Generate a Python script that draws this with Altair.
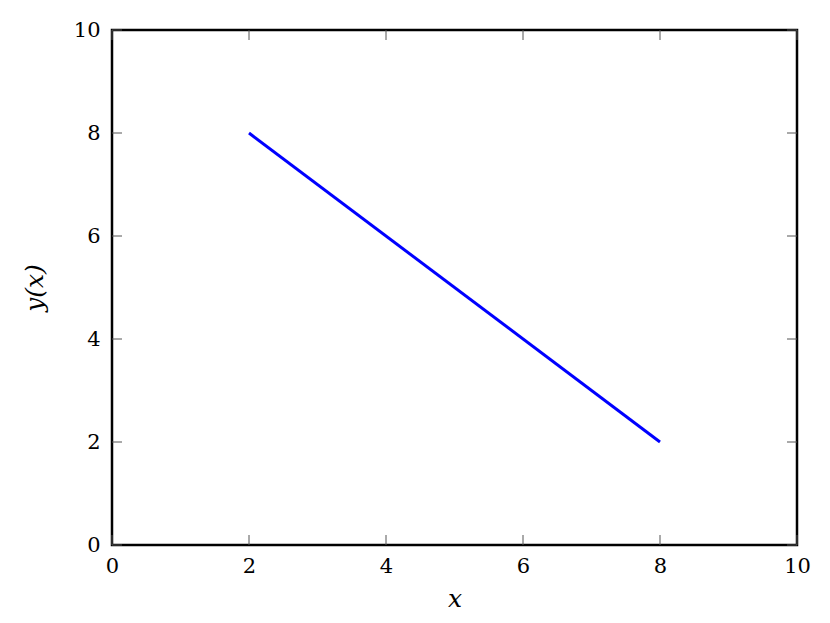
import altair as alt
import pandas as pd

x_vals = [2, 8]
y_vals = [8, 2]
ticks = [0, 2, 4, 6, 8, 10]

W, H = 685, 515
FONT = "DejaVu Serif"

line_df = pd.DataFrame({"x": x_vals, "y": y_vals})
tick_df = pd.DataFrame({"t": ticks})

xs = alt.Scale(domain=[0, 10], nice=False)
ys = alt.Scale(domain=[0, 10], nice=False)

common = dict(
    values=ticks, format="d", tickSize=0, domain=False, grid=False,
    labelFont=FONT, labelFontSize=21, labelColor="black", labelFlush=False,
    titleFont=FONT, titleFontSize=25, titleFontStyle="italic",
    titleFontWeight="normal", titleColor="black",
)
axx = alt.Axis(labelPadding=10, titlePadding=10, **common)
axy = alt.Axis(labelPadding=12, titlePadding=26, **common)

line = alt.Chart(line_df).mark_line(color="#0000ff", strokeWidth=3).encode(
    x=alt.X("x:Q", scale=xs, title="x", axis=axx),
    y=alt.Y("y:Q", scale=ys, title="y(x)", axis=axy),
)

tk = dict(color="#555555", strokeWidth=1)
xb = alt.Chart(tick_df).mark_rule(**tk).encode(x=alt.X("t:Q", scale=xs, title="x", axis=axx), y=alt.value(H), y2=alt.value(H - 10))
xt = alt.Chart(tick_df).mark_rule(**tk).encode(x=alt.X("t:Q", scale=xs, title="x", axis=axx), y=alt.value(0), y2=alt.value(10))
yl = alt.Chart(tick_df).mark_rule(**tk).encode(y=alt.Y("t:Q", scale=ys, title="y(x)", axis=axy), x=alt.value(0), x2=alt.value(10))
yr = alt.Chart(tick_df).mark_rule(**tk).encode(y=alt.Y("t:Q", scale=ys, title="y(x)", axis=axy), x=alt.value(W), x2=alt.value(W - 10))

chart = alt.layer(line, xb, xt, yl, yr).properties(
    width=W, height=H,
    background="white",
    autosize=alt.AutoSizeParams(type="none"),
    padding={"left": 104, "top": 22, "right": 20, "bottom": 75},
).configure_view(
    stroke="black", strokeWidth=2.5
)

chart.save("out.html", embed_options={"renderer": "svg", "actions": False})
